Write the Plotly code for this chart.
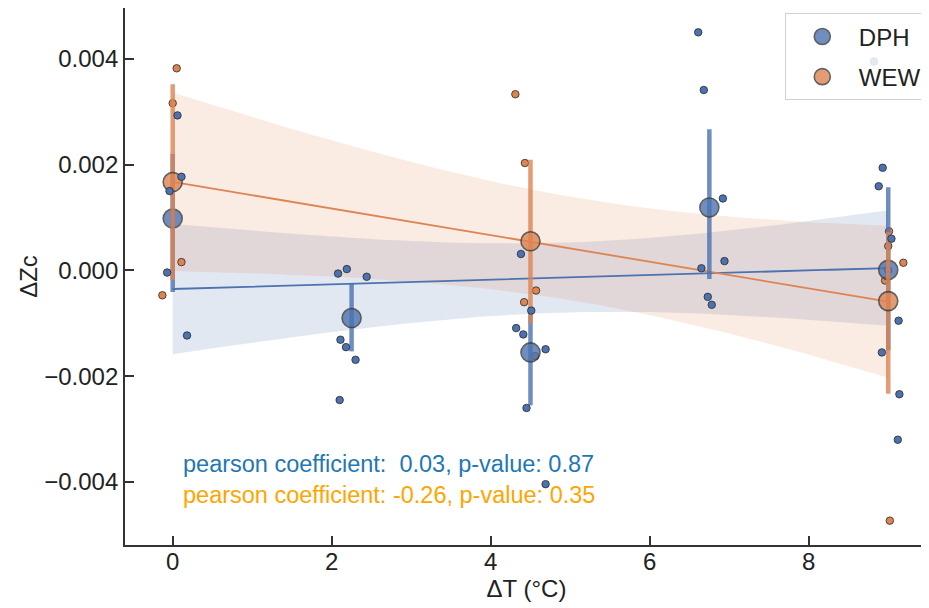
import numpy as np
import plotly.graph_objects as go

# ---------------- data ----------------
# DPH individual points: ΔT level, displayed (jittered) x, ΔZc
dph_dt = [0, 0, 0, 0, 0,
          2.25, 2.25, 2.25, 2.25, 2.25, 2.25, 2.25,
          4.5, 4.5, 4.5, 4.5, 4.5, 4.5, 4.5,
          6.75, 6.75, 6.75, 6.75, 6.75, 6.75, 6.75,
          9, 9, 9, 9, 9, 9, 9, 9]
dph_x = [0.06, 0.11, -0.04, -0.07, 0.18,
         2.08, 2.19, 2.44, 2.11, 2.18, 2.30, 2.10,
         4.38, 4.51, 4.32, 4.41, 4.69, 4.45, 4.69,
         6.61, 6.68, 6.92, 6.94, 6.65, 6.73, 6.78,
         8.93, 8.88, 9.04, 9.13, 8.92, 9.14, 9.12, 8.82]
dph_y = [0.00293, 0.00177, 0.0015, -0.00004, -0.00123,
         -0.00006, 0.000025, -0.00012, -0.00131, -0.00145, -0.00169, -0.00245,
         0.00031, -0.00076, -0.00109, -0.00121, -0.00149, -0.0026, -0.00404,
         0.0045, 0.00341, 0.00136, 0.000176, 0.00004, -0.0005, -0.00065,
         0.00194, 0.00159, 0.0006, -0.00095, -0.00155, -0.00234, -0.0032, 0.00395]

# WEW individual points (one at ΔT=9 sits hidden behind the DPH mean marker)
wew_dt = [0, 0, 0, 0, 4.5, 4.5, 4.5, 4.5, 4.5, 9, 9, 9, 9, 9, 9]
wew_x = [0.05, 0.0, 0.11, -0.13, 4.31, 4.43, 4.57, 4.42, 4.56,
         9.01, 9.0, 9.19, 8.96, 9.02, 9.0]
wew_y = [0.00382, 0.00316, 0.000157, -0.00047,
         0.00333, 0.00203, -0.00038, -0.0006, -0.00162,
         0.00074, 0.00046, 0.000145, -0.00019, -0.00473, 0.0]

# group means and 95% CI bars
dph_levels = [0, 2.25, 4.5, 6.75, 9]
dph_mean = [0.00098, -0.0009, -0.00155, 0.00119, 0.00001]
dph_ci_lo = [-0.00041, -0.00153, -0.00255, -0.00016, -0.00151]
dph_ci_hi = [0.0022, -0.00024, -0.0007, 0.00267, 0.00157]

wew_levels = [0, 4.5, 9]
wew_mean = [0.00167, 0.00055, -0.00058]
wew_ci_lo = [-0.00018, -0.001, -0.00233]
wew_ci_hi = [0.00352, 0.00209, 0.00072]

x_ticks = [0, 2, 4, 6, 8]
y_ticks = [-0.004, -0.002, 0.0, 0.002, 0.004]
y_ticktext = ["\u22120.004", "\u22120.002", "0.000", "0.002", "0.004"]

stat_texts = ["pearson coefficient:  0.03, p-value: 0.87",
              "pearson coefficient: -0.26, p-value: 0.35"]

# ---------------- styling ----------------
BLUE = "#4c72b0"
ORANGE = "#dd8452"
FONT = "Liberation Sans, Arial, sans-serif"

fig = go.Figure()


def reg_band(dt, y, tcrit):
    dt = np.asarray(dt, float)
    y = np.asarray(y, float)
    slope, icpt = np.polyfit(dt, y, 1)
    n = len(dt)
    resid = y - (slope * dt + icpt)
    s = np.sqrt(np.sum(resid ** 2) / (n - 2))
    xm = dt.mean()
    sxx = np.sum((dt - xm) ** 2)
    grid = np.linspace(dt.min(), dt.max(), 100)
    fit = slope * grid + icpt
    se = s * np.sqrt(1.0 / n + (grid - xm) ** 2 / sxx)
    return grid, fit, fit - tcrit * se, fit + tcrit * se


bands = [
    (dph_dt, dph_y, 1.9, BLUE, "rgba(76,114,176,0.16)"),
    (wew_dt, wew_y, 1.9, ORANGE, "rgba(221,132,82,0.16)"),
]
for dt, y, tc, col, fillc in bands:
    g, f, lo, hi = reg_band(dt, y, tc)
    fig.add_trace(go.Scatter(
        x=np.concatenate([g, g[::-1]]), y=np.concatenate([hi, lo[::-1]]),
        fill="toself", fillcolor=fillc, line=dict(width=0),
        mode="lines", showlegend=False, hoverinfo="skip"))
for dt, y, tc, col, fillc in bands:
    g, f, lo, hi = reg_band(dt, y, tc)
    fig.add_trace(go.Scatter(x=g, y=f, mode="lines",
                             line=dict(color=col, width=1.8),
                             showlegend=False, hoverinfo="skip"))

small_marker = dict(size=7.5, line=dict(color="#2a2a2a", width=0.8))

# WEW small points (under the mean markers)
fig.add_trace(go.Scatter(x=wew_x, y=wew_y, mode="markers",
                         marker=dict(color=ORANGE, **small_marker),
                         showlegend=False))


def bars(levels, lo, hi):
    xs, ys = [], []
    for l, a, b in zip(levels, lo, hi):
        xs += [l, l, None]
        ys += [a, b, None]
    return xs, ys


for name, levels, mean, lo, hi, col, grp in [
        ("DPH", dph_levels, dph_mean, dph_ci_lo, dph_ci_hi, BLUE, "a"),
        ("WEW", wew_levels, wew_mean, wew_ci_lo, wew_ci_hi, ORANGE, "b")]:
    bx, by = bars(levels, lo, hi)
    fig.add_trace(go.Scatter(x=bx, y=by, mode="lines",
                             line=dict(color=col, width=4.5), opacity=0.8,
                             showlegend=False, hoverinfo="skip"))
    fig.add_trace(go.Scatter(x=levels, y=mean, mode="markers", name=name,
                             legendgroup=grp,
                             marker=dict(size=19, color=col, opacity=0.8,
                                         line=dict(color="#3a3a3a", width=1.6))))

# DPH small points
fig.add_trace(go.Scatter(x=dph_x, y=dph_y, mode="markers",
                         marker=dict(color=BLUE, **small_marker),
                         showlegend=False))

fig.add_annotation(x=0.1, y=-0.00366, xref="x", yref="y", text=stat_texts[0],
                   showarrow=False, xanchor="left", yanchor="middle",
                   font=dict(family=FONT, size=23.5, color="#1f77b4"))
fig.add_annotation(x=0.1, y=-0.00425, xref="x", yref="y", text=stat_texts[1],
                   showarrow=False, xanchor="left", yanchor="middle",
                   font=dict(family=FONT, size=23.5, color="#ffa500"))

axis_common = dict(showline=True, linecolor="#333333", linewidth=1.8,
                   mirror=True, ticks="inside", ticklen=9, tickwidth=1.5,
                   tickcolor="#333333", showgrid=False, zeroline=False,
                   automargin=False,
                   tickfont=dict(family=FONT, size=24, color="#222222"))

# the page body adds an 8px offset, so the figure is 8px smaller than the window
fig.update_layout(
    width=921, height=600,
    margin=dict(l=117, r=1, t=0, b=63),
    plot_bgcolor="white", paper_bgcolor="white",
    font=dict(family=FONT, color="#222222"),
    xaxis=dict(range=[-0.6, 9.5], tickvals=x_ticks,
               title=dict(text="\u0394T (\u00b0C)", font=dict(size=24), standoff=2),
               ticklabelstandoff=-6, **axis_common),
    yaxis=dict(range=[-0.00519, 0.00496], tickvals=y_ticks, ticktext=y_ticktext,
               title=dict(text="\u0394Zc", font=dict(size=24), standoff=0),
               ticklabelstandoff=0, **axis_common),
    legend=dict(x=0.9985, y=0.99, xanchor="right", yanchor="top",
                bgcolor="rgba(255,255,255,0.85)", bordercolor="#d0d0d0",
                borderwidth=1, font=dict(family=FONT, size=24, color="#222222"),
                tracegroupgap=6, itemwidth=63),
)

fig.write_html("out.html")
